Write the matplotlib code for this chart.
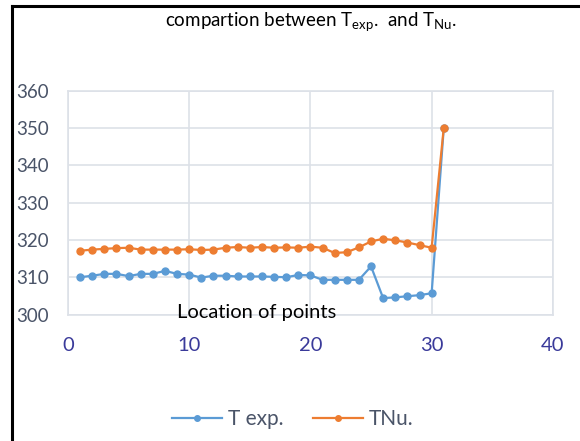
import matplotlib
matplotlib.use('Agg')
from matplotlib import pyplot as plt
from matplotlib.lines import Line2D

plt.rcParams['font.family'] = ['Lato', 'DejaVu Sans']

points = list(range(1, 32))
t_exp = [310.0, 310.4, 310.9, 310.9, 310.3, 310.9, 310.9, 311.7, 310.9, 310.7,
         309.9, 310.4, 310.4, 310.2, 310.2, 310.2, 310.1, 310.0, 310.6, 310.5,
         309.3, 309.3, 309.3, 309.3, 312.9, 304.4, 304.6, 304.9, 305.2, 305.7,
         350.0]
t_nu = [317.1, 317.4, 317.6, 317.8, 317.9, 317.4, 317.4, 317.4, 317.4, 317.5,
        317.3, 317.4, 317.9, 318.1, 317.9, 318.1, 317.9, 318.0, 317.9, 318.2,
        317.9, 316.5, 316.7, 318.0, 319.6, 320.3, 319.9, 319.3, 318.6, 317.9,
        350.0]
x_ticks = [0, 10, 20, 30, 40]
y_ticks = [300, 310, 320, 330, 340, 350, 360]

fig = plt.figure(figsize=(5.8, 4.41), dpi=100)
ax = fig.add_axes([0.1172, 0.2868, 0.836, 0.5075])

ax.plot(points, t_exp, color='#5B9BD5', lw=1.6, marker='o', ms=5, label='T exp.', zorder=3)
ax.plot(points, t_nu, color='#ED7D31', lw=1.6, marker='o', ms=5, label='TNu.', zorder=3)

ax.set_xlim(0, 40)
ax.set_ylim(300, 360)
ax.set_xticks(x_ticks)
ax.set_yticks(y_ticks)
ax.grid(True, color='#DDE1E8', lw=1.2)
ax.set_axisbelow(True)
for s in ax.spines.values():
    s.set_color('#DDE1E8')
    s.set_linewidth(1.2)
ax.tick_params(length=0)
ax.tick_params(axis='x', pad=16, labelsize=14.5, labelcolor='#3A3A9A')
ax.tick_params(axis='y', pad=14, labelsize=13.5, labelcolor='#4A5468')

# axis title sits inside the plot, over the bottom edge
ax.text(0.39, 0.008, 'Location of points', transform=ax.transAxes, ha='center', va='center',
        fontsize=14.5, color='black', zorder=4)

fig.text(0.536, 0.95, r'compartion between T$_{\mathregular{exp}}$.  and T$_{\mathregular{Nu}}$.',
         ha='center', va='center', fontsize=13.5, color='black')

handles = [Line2D([0], [0], color='#5B9BD5', lw=1.6, marker='o', ms=4),
           Line2D([0], [0], color='#ED7D31', lw=1.6, marker='o', ms=4)]
leg = fig.legend(handles, ['T exp.', 'TNu.'], loc='center', bbox_to_anchor=(0.505, 0.05),
                 ncol=2, frameon=False, fontsize=15, handlelength=2.4, columnspacing=1.4,
                 handletextpad=0.3)
for t in leg.get_texts():
    t.set_color('#4A5468')

# chart border (left and top only visible)
fig.add_artist(Line2D([0.02, 0.02], [0, 0.986], color='black', lw=2.2, transform=fig.transFigure))
fig.add_artist(Line2D([0.02, 1.0], [0.986, 0.986], color='black', lw=2.2, transform=fig.transFigure))

fig.savefig('out.png', dpi=100)
